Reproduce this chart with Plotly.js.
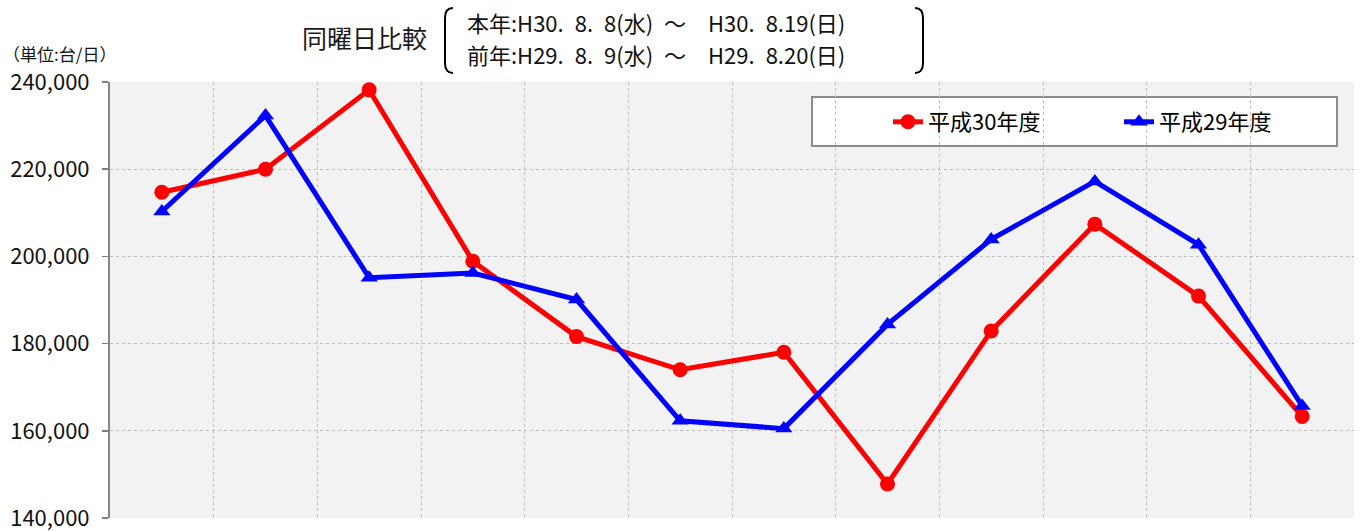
<!DOCTYPE html>
<html>
<head>
<meta charset="utf-8">
<script src="https://cdn.plot.ly/plotly-3.0.1.min.js"></script>
<style>html,body{margin:0;padding:0;background:#fff;}#chart{width:1361px;height:531px;}</style>
</head>
<body>
<div id="chart"></div>
<script>
// ---- data ----
var days = [1, 2, 3, 4, 5, 6, 7, 8, 9, 10, 11, 12];
var seriesNames = ["平成30年度", "平成29年度"];
var h30 = [214700, 220000, 238200, 198900, 181600, 174000, 178000, 147800, 182900, 207400, 190900, 163300];
var h29 = [210300, 232300, 195100, 196200, 190100, 162300, 160500, 184400, 203900, 217200, 202700, 165700];
var yTicks = [140000, 160000, 180000, 200000, 220000, 240000];
var yTickLabels = ["140,000", "160,000", "180,000", "200,000", "220,000", "240,000"];
var titleText = "同曜日比較";
var periodLine1 = "本年:H30.\u20028.\u20028(水)\u2002～\u2002\u2002H30.\u20028.19(日)";
var periodLine2 = "前年:H29.\u20028.\u20029(水)\u2002～\u2002\u2002H29.\u20028.20(日)";
var unitText = "（単位:台/日）";

// ---- layout helpers ----
var W = 1361, Hh = 531;
var M = {l: 110, r: 7, t: 82, b: 13};
var PW = W - M.l - M.r, PH = Hh - M.t - M.b;
function px(x) { return (x - M.l) / PW; }
function py(y) { return (Hh - M.b - y) / PH; }

var FONT = "'Noto Sans CJK JP', 'Noto Sans', sans-serif";

var traces = [
  {
    x: days, y: h30, name: seriesNames[0], type: 'scatter', mode: 'lines+markers',
    line: {color: '#ff0000', width: 5},
    marker: {symbol: 'circle', size: 15, color: '#ff0000'}
  },
  {
    x: days, y: h29, name: seriesNames[1], type: 'scatter', mode: 'lines+markers',
    line: {color: '#0000ff', width: 5},
    marker: {symbol: 'triangle-up', size: 15, color: '#0000ff'}
  }
];

function bracket(xTop, xMid, yTop, yBot, r) {
  return 'M' + px(xTop) + ',' + py(yTop) +
    ' Q' + px(xMid) + ',' + py(yTop) + ' ' + px(xMid) + ',' + py(yTop + r) +
    ' L' + px(xMid) + ',' + py(yBot - r) +
    ' Q' + px(xMid) + ',' + py(yBot) + ' ' + px(xTop) + ',' + py(yBot);
}

var layout = {
  width: W, height: Hh,
  margin: M,
  paper_bgcolor: '#ffffff',
  plot_bgcolor: '#f2f2f2',
  font: {family: FONT, color: '#000000'},
  showlegend: true,
  title: {
    text: titleText,
    font: {family: FONT, size: 25, color: '#1a1a1a'},
    x: 302 / W, xanchor: 'left', xref: 'container',
    y: 1 - 39 / Hh, yanchor: 'middle', yref: 'container'
  },
  xaxis: {
    range: [0.5, 12.5],
    tickmode: 'linear', tick0: 0.5, dtick: 1,
    showticklabels: false,
    ticks: '',
    showgrid: true, gridcolor: '#bdbdbd', gridwidth: 1, griddash: 'dot',
    zeroline: false, showline: false, fixedrange: true
  },
  yaxis: {
    range: [140000, 240000],
    tickmode: 'array', tickvals: yTicks, ticktext: yTickLabels,
    tickfont: {family: FONT, size: 22, color: '#111111'},
    ticks: 'outside', ticklen: 6, tickwidth: 1.5, tickcolor: '#808080',
    ticklabelstandoff: 8,
    ticklabeloverflow: 'allow',
    showgrid: true, gridcolor: '#bdbdbd', gridwidth: 1, griddash: 'dot',
    showline: true, linecolor: '#868686', linewidth: 2,
    zeroline: false, fixedrange: true
  },
  legend: {
    orientation: 'h',
    x: px(888), xanchor: 'left',
    y: py(122), yanchor: 'middle',
    bgcolor: 'rgba(0,0,0,0)', borderwidth: 0,
    font: {family: FONT, size: 22, color: '#000000'},
    entrywidth: 186, entrywidthmode: 'pixels',
    itemclick: false, itemdoubleclick: false
  },
  shapes: [
    {
      type: 'rect', xref: 'paper', yref: 'paper', layer: 'between',
      x0: px(812), x1: px(1337), y0: py(146), y1: py(97),
      fillcolor: '#ffffff', line: {color: '#8c8c8c', width: 2}
    },
    {
      type: 'path', xref: 'paper', yref: 'paper', layer: 'above',
      path: bracket(453, 445, 8, 73, 10),
      line: {color: '#000000', width: 2}
    },
    {
      type: 'path', xref: 'paper', yref: 'paper', layer: 'above',
      path: bracket(915, 923, 8, 73, 10),
      line: {color: '#000000', width: 2}
    }
  ],
  annotations: [
    {
      text: unitText, xref: 'paper', yref: 'paper',
      x: px(1), xanchor: 'left', y: py(53), yanchor: 'middle',
      showarrow: false, font: {family: FONT, size: 17, color: '#111111'}
    },
    {
      text: periodLine1, xref: 'paper', yref: 'paper',
      x: px(465), xanchor: 'left', y: py(22), yanchor: 'middle',
      align: 'left', showarrow: false,
      font: {family: FONT, size: 22, color: '#111111'}
    },
    {
      text: periodLine2, xref: 'paper', yref: 'paper',
      x: px(465), xanchor: 'left', y: py(54), yanchor: 'middle',
      align: 'left', showarrow: false,
      font: {family: FONT, size: 22, color: '#111111'}
    }
  ]
};

Plotly.newPlot('chart', traces, layout, {displayModeBar: false, staticPlot: true});
</script>
</body>
</html>
